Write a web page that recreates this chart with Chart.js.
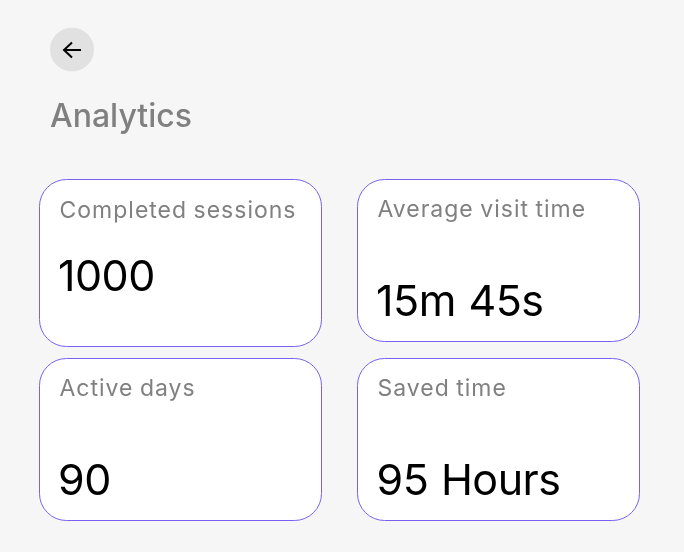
<!DOCTYPE html>
<html lang="en">
<head>
<meta charset="UTF-8">
<title>Analytics</title>
<script src="https://cdn.jsdelivr.net/npm/chart.js"></script>
<style>
  html, body { margin: 0; padding: 0; background: #f6f6f6; }
  canvas { display: block; }
</style>
</head>
<body>
<canvas id="stats" width="684" height="552"></canvas>
<script>
const pageTitle = 'Analytics';
const cardLabels = ['Completed sessions', 'Average visit time', 'Active days', 'Saved time'];
const cardValues = ['1000', '15m 45s', '90', '95 Hours'];

// x, y, w, h, label baseline, value baseline, label x, value x
const cardBoxes = [
  [39.5, 179.5, 282, 167, 218, 291, 59.5, 58],
  [357.5, 179.5, 282, 162, 217, 316, 377.5, 376],
  [39.5, 358.5, 282, 162, 396, 495, 59.5, 58],
  [357.5, 358.5, 282, 162, 396, 495, 377.5, 376.5]
];

function text(ctx, str, x, y, font, color, spacing, wordGap) {
  ctx.font = font;
  ctx.fillStyle = color;
  ctx.letterSpacing = spacing;
  ctx.wordSpacing = wordGap;
  ctx.textAlign = 'left';
  ctx.textBaseline = 'alphabetic';
  ctx.fillText(str, x, y);
}

const cardsPlugin = {
  id: 'cards',
  afterDraw(chart) {
    const ctx = chart.ctx;
    ctx.save();

    // back button
    ctx.fillStyle = '#e1e1e1';
    ctx.beginPath();
    ctx.arc(72, 49.5, 22, 0, Math.PI * 2);
    ctx.fill();
    ctx.strokeStyle = '#000';
    ctx.lineWidth = 2;
    ctx.beginPath();
    ctx.moveTo(81, 50);
    ctx.lineTo(64, 50);
    ctx.moveTo(72, 42.5);
    ctx.lineTo(64, 50);
    ctx.lineTo(72, 57.5);
    ctx.stroke();

    text(ctx, pageTitle, 50, 127, '500 32px Inter', '#808080', '0px', '0px');

    chart.data.labels.forEach((label, i) => {
      const b = cardBoxes[i];
      ctx.fillStyle = '#fff';
      ctx.strokeStyle = '#7b5ff0';
      ctx.lineWidth = 1;
      ctx.beginPath();
      ctx.roundRect(b[0], b[1], b[2], b[3], 27);
      ctx.fill();
      ctx.stroke();
      text(ctx, label, b[6], b[4], '400 23px Inter', '#808080', '1px', '-1px');
      text(ctx, cardValues[i], b[7], b[5], '400 43px Inter', '#000', '-0.5px', '1px');
    });
    ctx.restore();
  }
};

new Chart(document.getElementById('stats'), {
  type: 'bar',
  data: { labels: cardLabels, datasets: [{ data: [] }] },
  options: {
    responsive: false,
    animation: false,
    events: [],
    plugins: { legend: { display: false }, tooltip: { enabled: false } },
    scales: { x: { display: false }, y: { display: false } }
  },
  plugins: [cardsPlugin]
});
</script>
</body>
</html>
